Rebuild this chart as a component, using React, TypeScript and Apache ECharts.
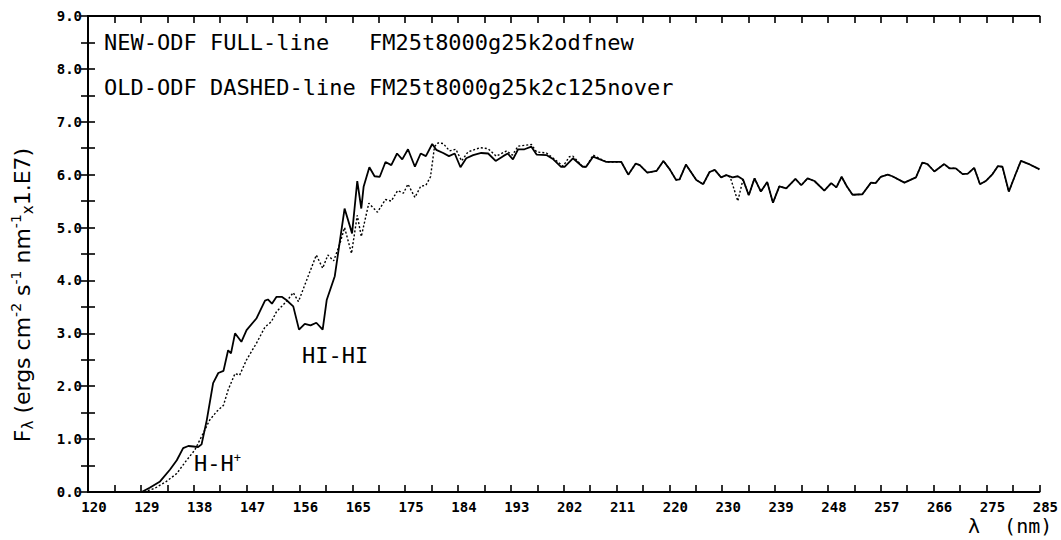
import React, { useEffect, useRef } from "react";
import * as echarts from "echarts";

const xTickLabels = ["120","129","138","147","156","165","175","184","193","202","211","220","230","239","248","257","266","275","285"];

const newWl = [120,129.3,130.7,132.5,134.2,135.4,136.5,137.4,138.3,139.1,139.7,140.6,141.7,142.6,143.5,144.3,144.8,145.5,146.6,147.5,149.2,150.7,151.2,151.9,152.7,153.6,154.4,155.6,156.6,157.6,158.6,159.6,160.7,161.4,162.8,164.5,165.8,166.7,167.4,167.8,168.8,169.7,170.6,171.6,172.6,173.6,174.5,175.5,176.7,177.7,178.6,179.7,180.4,181.6,182.6,183.6,184.6,185.6,186.8,188.2,189.4,190.7,192.0,192.8,193.7,194.6,195.7,196.9,197.8,199.5,200.7,202.0,202.7,204.1,205.8,206.4,207.6,209.9,212.5,213.7,215.0,215.7,217.0,218.6,219.8,220.9,222.0,222.6,223.7,225.5,226.7,227.8,228.7,229.8,230.7,231.8,232.7,233.6,234.6,235.6,236.7,237.8,238.8,239.9,241.1,242.7,243.7,244.8,246.0,247.7,248.9,249.8,250.7,251.6,252.6,254.3,255.8,256.6,257.5,258.7,259.5,261.6,263.6,264.7,265.6,266.8,268.5,269.4,270.5,271.7,272.6,273.7,274.7,275.7,276.8,277.8,278.6,279.7,280.7,281.8,283.0,284.7,285];
const newFlux = [0,0,0.08,0.2,0.42,0.6,0.83,0.87,0.86,0.85,0.9,1.36,2.06,2.25,2.29,2.68,2.62,3.0,2.84,3.06,3.28,3.62,3.64,3.56,3.69,3.69,3.63,3.51,3.07,3.18,3.15,3.2,3.07,3.63,4.08,5.36,4.89,5.88,5.36,5.77,6.14,5.97,5.96,6.24,6.18,6.4,6.29,6.48,6.15,6.4,6.35,6.58,6.47,6.41,6.35,6.4,6.14,6.31,6.37,6.41,6.4,6.26,6.35,6.4,6.29,6.48,6.48,6.53,6.38,6.37,6.29,6.15,6.15,6.31,6.15,6.15,6.34,6.24,6.24,6.0,6.21,6.18,6.04,6.07,6.26,6.1,5.9,5.91,6.19,5.9,5.82,6.05,6.09,5.95,5.99,5.95,5.97,5.91,5.61,5.93,5.68,5.86,5.47,5.78,5.74,5.92,5.8,5.93,5.88,5.7,5.84,5.76,5.96,5.78,5.62,5.63,5.85,5.84,5.96,6.0,5.97,5.85,5.95,6.23,6.2,6.06,6.2,6.12,6.12,6.01,6.02,6.13,5.82,5.88,6.0,6.16,6.15,5.68,5.96,6.26,6.21,6.12,6.1];

const oldWl = [120,129.6,131.6,133.6,135.4,137.1,138.5,139.7,141.1,142.3,143.5,144.3,145.5,146.3,147.5,149.2,150.7,151.8,152.7,154.4,155.6,156.5,157.9,159.6,160.7,161.6,162.6,163.7,164.5,165.7,166.7,167.4,168.7,170.2,171.6,172.6,173.7,174.7,175.5,176.7,177.7,178.6,179.4,180.1,180.7,181.6,182.7,183.8,184.8,185.9,188.0,189.4,190.8,192.6,193.6,194.6,196.9,197.8,199.5,200.7,202.4,203.5,204.1,205.8,206.4,207.6,209.9,212.5,213.7,215.0,215.7,217.0,218.6,219.8,220.9,222.0,222.6,223.7,225.5,226.7,227.8,228.7,229.8,230.7,231.4,232.7,233.6,234.6,235.6,236.7,237.8,238.8,239.9,241.1,242.7,243.7,244.8,246.0,247.7,248.9,249.8,250.7,251.6,252.6,254.3,255.8,256.6,257.5,258.7,259.5,261.6,263.6,264.7,265.6,266.8,268.5,269.4,270.5,271.7,272.6,273.7,274.7,275.7,276.8,277.8,278.6,279.7,280.7,281.8,283.0,284.7,285];
const oldFlux = [0,0,0.07,0.2,0.35,0.6,0.79,1.05,1.36,1.52,1.64,1.93,2.24,2.21,2.5,2.81,3.12,3.22,3.41,3.6,3.77,3.6,4.0,4.48,4.23,4.48,4.37,4.7,5.0,4.51,5.23,4.83,5.46,5.29,5.53,5.5,5.7,5.65,5.82,5.57,5.78,5.8,5.96,6.53,6.6,6.59,6.45,6.48,6.26,6.43,6.51,6.49,6.35,6.45,6.37,6.54,6.57,6.43,6.41,6.31,6.16,6.34,6.35,6.15,6.15,6.37,6.24,6.24,6.0,6.21,6.18,6.04,6.07,6.26,6.1,5.9,5.91,6.19,5.9,5.82,6.05,6.09,5.95,5.99,5.95,5.5,5.91,5.61,5.93,5.68,5.86,5.47,5.78,5.74,5.92,5.8,5.93,5.88,5.7,5.84,5.76,5.96,5.78,5.62,5.63,5.85,5.84,5.96,6.0,5.97,5.85,5.95,6.23,6.2,6.06,6.2,6.12,6.12,6.01,6.02,6.13,5.82,5.88,6.0,6.16,6.15,5.68,5.96,6.26,6.21,6.12,6.1];

const legendLines = [
  "NEW-ODF FULL-line   FM25t8000g25k2odfnew",
  "OLD-ODF DASHED-line FM25t8000g25k2c125nover",
];

const MONO = "'DejaVu Sans Mono', monospace";
const SANS = "'DejaVu Sans', sans-serif";

export default function App() {
  const ref = useRef<HTMLDivElement>(null);
  useEffect(() => {
    if (!ref.current) return;
    const chart = echarts.init(ref.current, undefined, { renderer: "svg" });
    const axisLine = { show: true, lineStyle: { color: "#000", width: 2 } };
    const axisTick = { show: true, inside: true, length: 7, lineStyle: { color: "#000", width: 1.6 } };
    const isInt = (v: number) => Math.abs(v - Math.round(v)) < 1e-6;
    chart.setOption({
      animation: false,
      backgroundColor: "#fff",
      grid: { left: 88, right: 21, top: 16, bottom: 48, containLabel: false },
      xAxis: [
        { type: "value", min: 120, max: 285, show: false },
        {
          type: "value", min: 0, max: 18, interval: 0.5, position: "bottom",
          axisLine, axisTick, splitLine: { show: false },
          axisLabel: {
            show: true, margin: 8, color: "#000", fontFamily: MONO, fontWeight: "bold", fontSize: 14,
            padding: [0, 0, 0, 12],
            formatter: (v: number) => (isInt(v) ? xTickLabels[Math.round(v)] : ""),
          },
        },
        {
          type: "value", min: 0, max: 18, interval: 0.5, position: "top",
          axisLine, axisTick, splitLine: { show: false }, axisLabel: { show: false },
        },
      ],
      yAxis: [
        {
          type: "value", min: 0, max: 9, interval: 0.5, position: "left",
          axisLine, axisTick, splitLine: { show: false },
          axisLabel: {
            show: true, margin: 6, color: "#000", fontFamily: MONO, fontWeight: "bold", fontSize: 14,
            formatter: (v: number) => (isInt(v) ? v.toFixed(1) : ""),
          },
        },
        {
          type: "value", min: 0, max: 9, interval: 0.5, position: "right",
          axisLine, axisTick, splitLine: { show: false }, axisLabel: { show: false },
        },
      ],
      series: [
        {
          type: "line", xAxisIndex: 0, yAxisIndex: 0, showSymbol: false, symbol: "none",
          lineStyle: { color: "#000", width: 1.8 },
          data: newWl.map((w, i) => [w, newFlux[i]]),
        },
        {
          type: "line", xAxisIndex: 0, yAxisIndex: 0, showSymbol: false, symbol: "none",
          lineStyle: { color: "#000", width: 1.4, type: [2, 2] },
          data: oldWl.map((w, i) => [w, oldFlux[i]]),
        },
      ],
      graphic: [
        { type: "text", x: 104, y: 42, style: { text: legendLines[0], font: `22px ${MONO}`, fill: "#000", verticalAlign: "middle" } },
        { type: "text", x: 104, y: 87, style: { text: legendLines[1], font: `22px ${MONO}`, fill: "#000", verticalAlign: "middle" } },
        { type: "text", x: 302, y: 355, style: { text: "HI-HI", font: `22px ${MONO}`, fill: "#000", verticalAlign: "middle" } },
        {
          type: "text", x: 194, y: 463,
          style: {
            text: "H-H{sup|+}", font: `22px ${MONO}`, fill: "#000", verticalAlign: "middle",
            rich: { sup: { fontSize: 12, fontFamily: MONO, fill: "#000", color: "#000", verticalAlign: "top", lineHeight: 12 } },
          },
        },
        { type: "text", x: 968, y: 526, style: { text: "\u03bb  (nm)", font: `20px ${MONO}`, fill: "#000", verticalAlign: "middle" } },
        {
          type: "text", x: 22, y: 295, rotation: Math.PI / 2,
          style: {
            text: "F{sub|\u03bb} (ergs cm{sup|-2} s{sup|-1} nm{sup|-1}{sub|x}1.E7)",
            font: `22px ${SANS}`, fill: "#000", align: "center", verticalAlign: "middle", lineHeight: 34,
            rich: {
              sub: { fontSize: 15, fontFamily: SANS, fill: "#000", color: "#000", verticalAlign: "bottom", lineHeight: 15, padding: [0, 0, 4, 0] },
              sup: { fontSize: 14, fontFamily: SANS, fill: "#000", color: "#000", verticalAlign: "top", lineHeight: 14, padding: [4, 0, 0, 0] },
            },
          },
        },
      ],
    });
    return () => chart.dispose();
  }, []);
  return (
    <div
      ref={ref}
      style={{ position: "fixed", left: 0, top: 0, width: 1061, height: 540, background: "#fff" }}
    />
  );
}
